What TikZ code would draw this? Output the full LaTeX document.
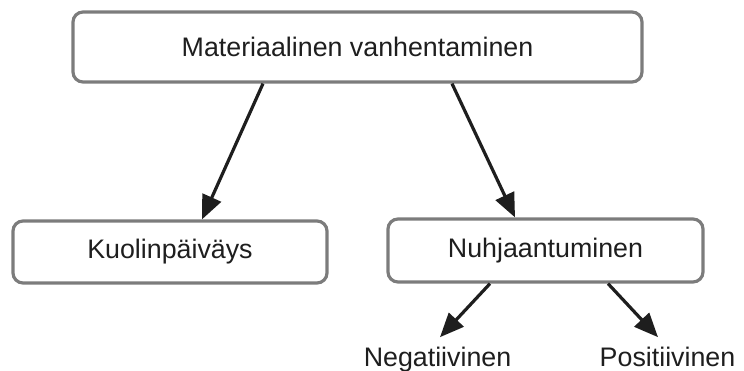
\documentclass[tikz,border=0pt]{standalone}
\usepackage{fontspec}
\setmainfont{Liberation Sans}
\usetikzlibrary{arrows.meta}

\definecolor{boxgray}{HTML}{7C7C7C}
\definecolor{inkblack}{HTML}{1E1E1E}

\begin{document}
\begin{tikzpicture}[x=0.5pt,y=-0.5pt,
    font=\fontsize{13.4}{16}\selectfont, text=inkblack,
    box/.style={draw=boxgray, line width=1.6pt, rounded corners=5pt, inner sep=0pt},
    arr/.style={-{Triangle[length=12pt,width=10pt]}, line width=1.6pt, draw=inkblack}]
                % Frame
                \useasboundingbox (0,0) rectangle (744,370);

                % Boxes
                \node[box, minimum width=284.5pt, minimum height=35pt] (aging) at (357.5,47) {Materiaalinen vanhentaminen};
                \node[box, minimum width=157pt, minimum height=31pt] (death) at (170,252) {Kuolinpäiväys};
                \node[box, minimum width=157.5pt, minimum height=31.5pt] (wear) at (545.5,250.5) {Nuhjaantuminen};

                % Leaves
                \node[inner sep=0pt, anchor=base] (neg) at (437.5,366) {Negatiivinen};
                \node[inner sep=0pt, anchor=base] (pos) at (667.5,366) {Positiivinen};

                % Arrows
                \draw[arr] ([xshift=-47.25pt]aging.south) -- ([xshift=16pt]death.north);
                \draw[arr] ([xshift=47.25pt]aging.south) -- ([xshift=-15.25pt]wear.north);
                \draw[arr] ([xshift=-27.75pt]wear.south) -- ([xshift=1.25pt,yshift=4.5pt]neg.north);
                \draw[arr] ([xshift=31.25pt]wear.south) -- ([xshift=-4.75pt,yshift=4.5pt]pos.north);
\end{tikzpicture}
\end{document}
